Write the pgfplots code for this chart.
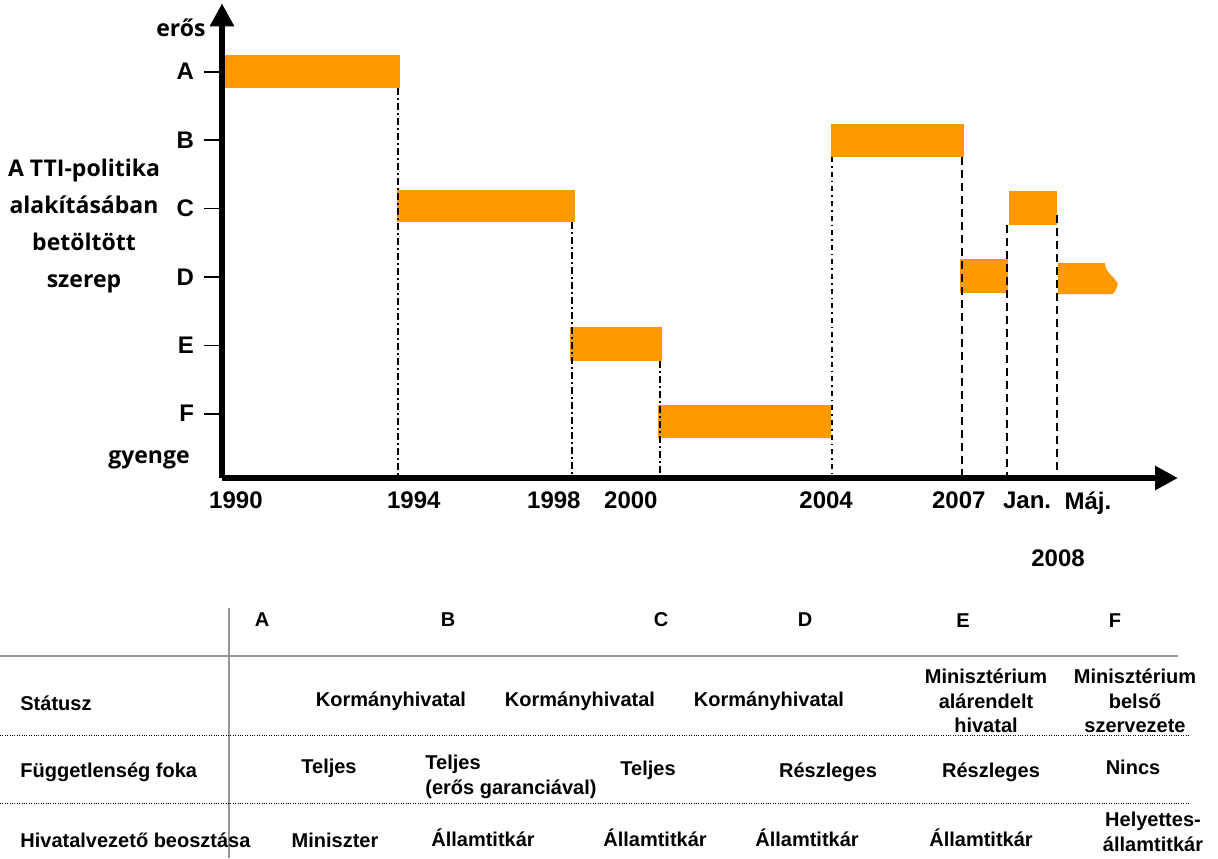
\documentclass[border=0pt]{standalone}
\usepackage{fontspec}
\setmainfont{Liberation Sans}
\newfontfamily\osans{Open Sans}
\usepackage{pgfplots}
\pgfplotsset{compat=1.18}
\usetikzlibrary{arrows.meta}
\definecolor{barorange}{RGB}{255,153,0}
\definecolor{tblgray}{RGB}{150,150,150}
\tikzset{
  dashdot1/.style={line width=1pt, dash pattern=on 3.5pt off 1.6pt on 0.8pt off 1.6pt},
  dashdot2/.style={line width=1pt, dash pattern=on 2.5pt off 2pt on 0.8pt off 2pt},
  dash1/.style={line width=1pt, dash pattern=on 4pt off 2.5pt},
}
\begin{document}
\begin{tikzpicture}
\useasboundingbox (0,0) rectangle (609pt,-429pt);
\begin{axis}[
  at={(111pt,-239pt)}, anchor=south west,
  scale only axis, width=478pt, height=237.35pt,
  xmin=1990, xmax=2011.98, ymin=0.06, ymax=7,
  enlargelimits=false, clip=false,
  axis lines=left,
  axis line style={line width=3pt, -{Triangle[length=11.5pt,width=11.5pt]}},
  ytick={1,2,3,4,5,6},
  yticklabels={F,E,D,C,B,A},
  xtick={1990.32,1994.41,1997.63,1999.40,2003.89,2006.94,2008.51,2009.91},
  xticklabels={1990,1994,1998,2000,2004,2007,Jan.,Máj.},
  tick align=outside,
  major tick length=9pt,
  y tick style={line width=0.8pt, black},
  x tick style={draw=none},
  tick label style={font=\bfseries\fontsize{12}{12}\selectfont},
  x tick label style={yshift=5.5pt},
  y tick label style={xshift=-1.5pt},
  /pgf/number format/assume math mode=true,
]
% bars
\addplot[fill=barorange, draw=none, mark=none] coordinates {(1990.07,5.76) (1994.09,5.76) (1994.09,6.24) (1990.07,6.24)} -- cycle;
\addplot[fill=barorange, draw=none, mark=none] coordinates {(1994.02,3.80) (1998.11,3.80) (1998.11,4.27) (1994.02,4.27)} -- cycle;
\addplot[fill=barorange, draw=none, mark=none] coordinates {(1998.00,1.77) (2000.11,1.77) (2000.11,2.27) (1998.00,2.27)} -- cycle;
\addplot[fill=barorange, draw=none, mark=none] coordinates {(2000.02,0.64) (2004.00,0.64) (2004.00,1.13) (2000.02,1.13)} -- cycle;
\addplot[fill=barorange, draw=none, mark=none] coordinates {(2004.00,4.75) (2007.06,4.75) (2007.06,5.24) (2004.00,5.24)} -- cycle;
\addplot[fill=barorange, draw=none, mark=none] coordinates {(2006.97,2.76) (2008.07,2.76) (2008.07,3.26) (2006.97,3.26)} -- cycle;
\addplot[fill=barorange, draw=none, mark=none] coordinates {(2008.09,3.76) (2009.20,3.76) (2009.20,4.26) (2008.09,4.26)} -- cycle;
\addplot[fill=barorange, draw=none, mark=none] coordinates {(2009.22,3.20) (2010.30,3.20) (2010.32,3.13) (2010.39,3.06) (2010.51,2.98) (2010.60,2.90) (2010.55,2.81) (2010.48,2.75) (2009.22,2.75)} -- cycle;
% vertical guide lines
\addplot[dashdot1, mark=none] coordinates {(1994.05,5.76) (1994.05,0.06)};
\addplot[dashdot1, mark=none] coordinates {(1998.05,3.80) (1998.05,0.06)};
\addplot[dashdot1, mark=none] coordinates {(2000.07,1.77) (2000.07,0.06)};
\addplot[dashdot2, mark=none] coordinates {(2004.02,4.75) (2004.02,0.06)};
\addplot[dash1, mark=none] coordinates {(2007.01,4.75) (2007.01,0.06)};
\addplot[dash1, mark=none] coordinates {(2008.05,3.76) (2008.05,0.06)};
\addplot[dash1, mark=none] coordinates {(2009.20,3.90) (2009.20,0.06)};
\end{axis}
\begin{scope}[x=0.5pt,y=-0.5pt, every node/.style={inner sep=0pt, align=center, font=\bfseries\fontsize{10}{12.3}\selectfont}]
% chart side texts
\node[font=\osans\bfseries\fontsize{11.5}{18.5}\selectfont] at (181,28) {erős};
\node[font=\osans\bfseries\fontsize{11.5}{18.5}\selectfont] at (84,226) {A TTI-politika\\alakításában\\betöltött\\szerep};
\node[font=\osans\bfseries\fontsize{11.5}{18.5}\selectfont] at (149,460) {gyenge};
\node[font=\bfseries\fontsize{12}{12}\selectfont] at (1058,558) {2008};
% table lines
\draw[tblgray, line width=1pt] (229,608) -- (229,858);
\draw[tblgray, line width=1pt] (0,656) -- (1178,656);
\draw[black, line width=0.5pt, dash pattern=on 0.5pt off 0.7pt] (0,735) -- (1190,735);
\draw[black, line width=0.5pt, dash pattern=on 0.5pt off 0.7pt] (0,803) -- (1190,803);
% header
\node at (262,620) {A};
\node at (448,620) {B};
\node at (661,620) {C};
\node at (805,620) {D};
\node at (963,621) {E};
\node at (1115,621) {F};
% row labels
\node[anchor=west] at (20,703) {Státusz};
\node[anchor=west] at (20,772) {Függetlenség foka};
\node[anchor=west] at (20,840) {Hivatalvezető beosztása};
% status
\node at (391,701) {Kormányhivatal};
\node at (580,701) {Kormányhivatal};
\node at (769,701) {Kormányhivatal};
\node at (986,701) {Minisztérium\\alárendelt\\hivatal};
\node at (1135,701) {Minisztérium\\belső\\szervezete};
% independence
\node at (329,768) {Teljes};
\node[anchor=west, align=left] at (425,777) {Teljes\\(erős garanciával)};
\node at (648,770) {Teljes};
\node at (828,772) {Részleges};
\node at (991,772) {Részleges};
\node at (1133,767) {Nincs};
% head
\node at (335,840) {Miniszter};
\node at (483,838) {Államtitkár};
\node at (655,838) {Államtitkár};
\node at (807,838) {Államtitkár};
\node at (981,838) {Államtitkár};
\node at (1153,832) {Helyettes-\\államtitkár};
\end{scope}
\end{tikzpicture}
\end{document}
